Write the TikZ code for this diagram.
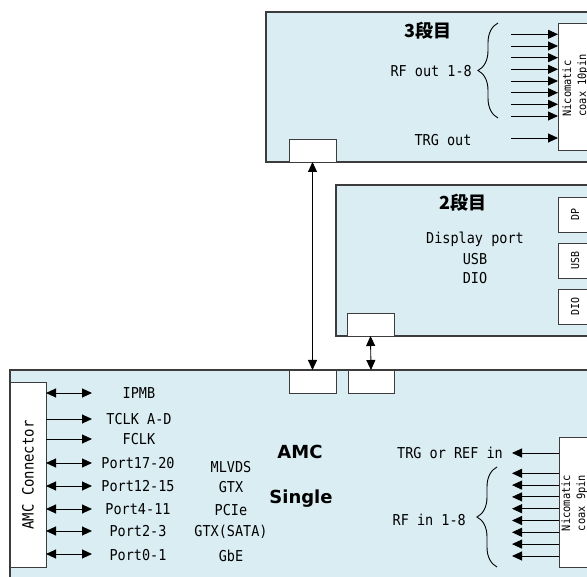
\documentclass[tikz,border=0pt]{standalone}
\usepackage{fontspec}
\usetikzlibrary{arrows.meta,decorations.pathreplacing,calc}
\newfontfamily\gm[FakeStretch=0.9]{DejaVu Sans Mono}
\newfontfamily\jp{Noto Sans CJK JP}
\newfontfamily\dvs{DejaVu Sans}
\definecolor{panel}{RGB}{218,237,243}
\definecolor{edge}{RGB}{60,60,60}
\begin{document}
\begin{tikzpicture}[x=1pt,y=-1pt,
  panelbox/.style={draw=edge,line width=1.3pt,fill=panel},
  wbox/.style={draw=edge,line width=0.9pt,fill=white,anchor=north west,inner sep=0pt,outer sep=0pt},
  lbl/.style={font=\gm\fontsize{15}{17}\selectfont,inner sep=0pt},
  small/.style={font=\gm\fontsize{11.5}{15}\selectfont,inner sep=0pt,rotate=90,align=left},
  title/.style={font=\jp\bfseries\fontsize{18}{20}\selectfont,inner sep=0pt},
  big/.style={font=\dvs\bfseries\fontsize{18}{20}\selectfont,inner sep=0pt},
  arr/.style={-{Triangle[length=10pt,width=9pt]},line width=0.9pt},
  darr/.style={{Triangle[length=10pt,width=9pt]}-{Triangle[length=10pt,width=9pt]},line width=0.9pt},
  brc/.style={decorate,decoration={brace,amplitude=20pt},line width=0.9pt}]
\useasboundingbox (0,0) rectangle (587,577);
\clip (0,0) rectangle (587,577);

% ---------- top panel (3段目)
\draw[panelbox] (266,12) rectangle (600,162);
\node[wbox,minimum width=45,minimum height=127] (tconn) at (558,23) {};
\node[small] at (575.5,85.5) {Nicomatic\\coax 10pin};
\node[wbox,minimum width=47,minimum height=23] (tsock) at (289,139) {};
\node[title] (t3) at (428,31) {3段目};
\node[lbl,anchor=east] (rfout) at (472,71) {RF out 1-8};
\node[lbl] (trgout) at (443,140) {TRG out};
\foreach \y in {34.3,46,57.7,69.3,81,92.7,104.3,116}
  \draw[arr] (511,\y) -- (tconn.west |- 0,\y);
\draw[arr] (511,138) -- (tconn.west |- 0,138);
\draw[brc] (498,118) -- (498,23);

% ---------- middle panel (2段目)
\draw[panelbox] (336,185) rectangle (600,336);
\node[wbox,minimum width=45,minimum height=35] (dp) at (558,197) {};
\node[wbox,minimum width=45,minimum height=35] (usb) at (558,243) {};
\node[wbox,minimum width=45,minimum height=35] (dio) at (558,289) {};
\node[small,font=\gm\fontsize{11}{13}\selectfont] at (575,214.5) {DP};
\node[small,font=\gm\fontsize{11}{13}\selectfont] at (575,260.5) {USB};
\node[small,font=\gm\fontsize{11}{13}\selectfont] at (575,306.5) {DIO};
\node[wbox,minimum width=47,minimum height=23] (msock) at (347,313) {};
\node[title] (t2) at (463,203) {2段目};
\node[lbl] (dport) at (475,239) {Display port};
\node[lbl] (usbl) at (475,259) {USB};
\node[lbl] (diol) at (475,278) {DIO};

% ---------- lower panel (AMC)
\draw[panelbox] (10,370) rectangle (600,600);
\node[wbox,minimum width=47,minimum height=23] (bsock1) at (289,370) {};
\node[wbox,minimum width=46,minimum height=23] (bsock2) at (348,370) {};
\node[wbox,minimum width=36,minimum height=185] (conn) at (10,382) {};
\node[lbl,rotate=90,font=\gm\fontsize{15.5}{17}\selectfont] at (28,475) {AMC Connector};
\node[wbox,minimum width=45,minimum height=130] (bconn) at (559,437) {};
\node[small] at (574.5,503) {Nicomatic\\coax 9pin};

\node[big] (amc) at (300,452) {AMC};
\node[big] (single) at (301,499) {Single};

% left arrows and labels
\draw[darr] (conn.east |- 0,393) -- (92,393);
\draw[arr] (conn.east |- 0,419) -- (92,419);
\draw[arr] (conn.east |- 0,439) -- (92,439);
\draw[darr] (conn.east |- 0,463) -- (92,463);
\draw[darr] (conn.east |- 0,486) -- (92,486);
\draw[darr] (conn.east |- 0,509) -- (92,509);
\draw[darr] (conn.east |- 0,531) -- (92,531);
\draw[darr] (conn.east |- 0,554) -- (92,554);
\node[lbl] at (139,393) {IPMB};
\node[lbl] at (139,419) {TCLK A-D};
\node[lbl] at (139,439) {FCLK};
\node[lbl] at (138,463) {Port17-20};
\node[lbl] at (138,486) {Port12-15};
\node[lbl] at (138,509) {Port4-11};
\node[lbl] at (138,531) {Port2-3};
\node[lbl] at (138,555) {Port0-1};
\node[lbl] at (231,467) {MLVDS};
\node[lbl] at (231,487) {GTX};
\node[lbl] at (231,510) {PCIe};
\node[lbl] at (231,532) {GTX(SATA)};
\node[lbl] at (231,556) {GbE};

% right arrows and labels
\node[lbl,anchor=east] (trgin) at (503,453) {TRG or REF in};
\draw[arr] (bconn.west |- 0,453) -- (512,453);
\foreach \y in {473.3,485.1,496.9,508.7,520.5,532.3,544.1,556}
  \draw[arr] (bconn.west |- 0,\y) -- (512,\y);
\draw[brc] (497,567) -- (497,467);
\node[lbl,anchor=east] (rfin) at (466,520) {RF in 1-8};

% vertical connections
\draw[darr] (tsock.south) -- (bsock1.north);
\draw[darr] (msock.south) -- (bsock2.north);
\end{tikzpicture}
\end{document}
